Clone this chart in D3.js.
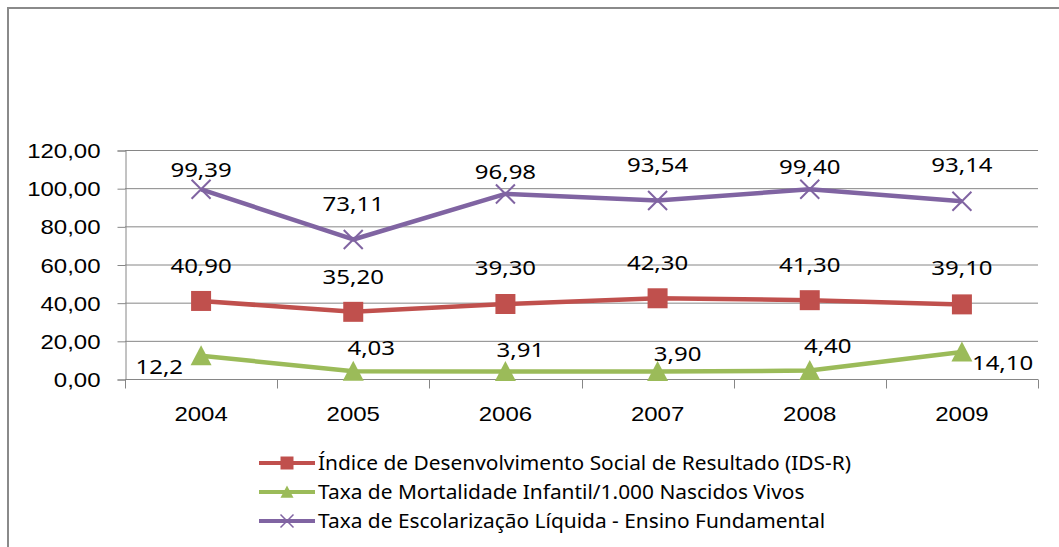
<!DOCTYPE html>
<html>
<head>
<meta charset="utf-8">
<script src="https://cdn.jsdelivr.net/npm/d3@7"></script>
<style>
  html, body { margin: 0; padding: 0; background: #fff; }
  svg { display: block; font-family: "Noto Sans", "Open Sans", sans-serif; }
</style>
</head>
<body>
<div id="chart"></div>
<script>
// data
const years = ['2004', '2005', '2006', '2007', '2008', '2009'];
const idsR = [40.90, 35.20, 39.30, 42.30, 41.30, 39.10];
const mortalidade = [12.2, 4.03, 3.91, 3.90, 4.40, 14.10];
const escolarizacao = [99.39, 73.11, 96.98, 93.54, 99.40, 93.14];
const yTicks = [0, 20, 40, 60, 80, 100, 120];

const idsLabels = ['40,90', '35,20', '39,30', '42,30', '41,30', '39,10'];
const mortLabels = ['12,2', '4,03', '3,91', '3,90', '4,40', '14,10'];
const escLabels = ['99,39', '73,11', '96,98', '93,54', '99,40', '93,14'];

// label offsets (dx, dy, anchor) as placed in the original
const idsPlace = [[0,-35,'middle'],[0,-35,'middle'],[0,-36,'middle'],[0,-35,'middle'],[0,-35,'middle'],[0,-36,'middle']];
const mortPlace = [[-18,11,'end'],[18,-23,'middle'],[15,-22,'middle'],[20,-18,'middle'],[18,-25,'middle'],[10,11,'start']];
const escPlace = [[0,-19,'middle'],[0,-35,'middle'],[0,-22,'middle'],[0,-35,'middle'],[0,-22,'middle'],[0,-36,'middle']];

const W = 1059, H = 547;
const FS = 20, SX = 1.2;   // font size and horizontal stretch of the numbers
const LSX = 1.045;         // legend text stretch

const svg = d3.select('#chart').append('svg')
  .attr('width', W).attr('height', H);

// frame (only top & left visible)
svg.append('path')
  .attr('d', `M8,${H} V8 H${W}`)
  .attr('fill', 'none')
  .attr('stroke', '#8a8a8a')
  .attr('stroke-width', 2);

const x = d3.scaleBand().domain(years).range([125, 1038]).padding(0);
const y = d3.scaleLinear().domain([0, 120]).range([379, 150]);
const cx = d => x(d) + x.bandwidth() / 2;

// gridlines
svg.append('g')
  .selectAll('line')
  .data(yTicks.filter(t => t > 0))
  .join('line')
  .attr('x1', 125).attr('x2', 1038)
  .attr('y1', d => y(d) + 0.5).attr('y2', d => y(d) + 0.5)
  .attr('stroke', '#868686').attr('stroke-width', 1);

// y axis
const yAxis = svg.append('g')
  .attr('transform', 'translate(125.5,0.5)')
  .call(d3.axisLeft(y).tickValues(yTicks).tickSize(8).tickPadding(17)
    .tickFormat(d => d3.format('.2f')(d).replace('.', ',')));
yAxis.select('.domain').attr('stroke', '#868686');
yAxis.selectAll('.tick line').attr('stroke', '#868686');
yAxis.selectAll('.tick text')
  .attr('fill', '#000')
  .style('font-size', FS + 'px')
  .attr('x', -25 / SX)
  .attr('dy', '0.35em')
  .attr('transform', `scale(${SX},1)`);

// x axis
const xAxis = svg.append('g')
  .attr('transform', 'translate(0,379.5)')
  .call(d3.axisBottom(x).tickSize(0).tickPadding(27));
xAxis.select('.domain').attr('stroke', '#868686').attr('d', 'M125,0H1038');
xAxis.selectAll('.tick text')
  .attr('fill', '#000')
  .style('font-size', FS + 'px')
  .attr('transform', `scale(${SX},1)`)
  .attr('x', 0);
xAxis.selectAll('.tick').attr('transform', d => `translate(${cx(d)},0)`);
xAxis.append('g')
  .selectAll('line')
  .data(years.map(d => x(d)).concat([x(years[years.length - 1]) + x.bandwidth()]))
  .join('line')
  .attr('x1', d => Math.round(d) + 0.5).attr('x2', d => Math.round(d) + 0.5)
  .attr('y1', 0).attr('y2', 9)
  .attr('stroke', '#868686');

// markers
const square = s => `M${-s},${-s}H${s}V${s}H${-s}Z`;
const triangle = s => `M0,${-s}L${s},${s * 0.9}L${-s},${s * 0.9}Z`;
const cross = s => `M${-s},${-s}L${s},${s}M${-s},${s}L${s},${-s}`;

const series = [
  { name: 'Índice de Desenvolvimento Social de Resultado (IDS-R)', values: idsR, labels: idsLabels, place: idsPlace,
    color: '#C0504D', marker: square, size: 10, legendSize: 6.5, fillMarker: true },
  { name: 'Taxa de Mortalidade Infantil/1.000 Nascidos Vivos', values: mortalidade, labels: mortLabels, place: mortPlace,
    color: '#9BBB59', marker: triangle, size: 10.5, legendSize: 6.5, fillMarker: true },
  { name: 'Taxa de Escolarização Líquida - Ensino Fundamental', values: escolarizacao, labels: escLabels, place: escPlace,
    color: '#8064A2', marker: cross, size: 9.5, legendSize: 6.5, fillMarker: false }
];

const line = d3.line().x(d => cx(d[0])).y(d => y(d[1]));

series.forEach(s => {
  const pts = years.map((yr, i) => [yr, s.values[i]]);
  const g = svg.append('g');
  g.append('path')
    .datum(pts)
    .attr('d', line)
    .attr('fill', 'none')
    .attr('stroke', s.color)
    .attr('stroke-width', 4.5)
    .attr('stroke-linejoin', 'round');
  g.selectAll('path.mk')
    .data(pts)
    .join('path')
    .attr('class', 'mk')
    .attr('transform', d => `translate(${cx(d[0])},${y(d[1])})`)
    .attr('d', s.marker(s.size))
    .attr('fill', s.fillMarker ? s.color : 'none')
    .attr('stroke', s.color)
    .attr('stroke-width', s.fillMarker ? 0 : 2);
});

// data labels on top
series.forEach(s => {
  svg.append('g')
    .selectAll('text')
    .data(years.map((yr, i) => ({ yr, v: s.values[i], t: s.labels[i], p: s.place[i] })))
    .join('text')
    .attr('transform', d => `translate(${cx(d.yr) + d.p[0]},${y(d.v) + d.p[1]}) scale(${SX},1)`)
    .attr('text-anchor', d => d.p[2])
    .attr('dy', '0.35em')
    .style('font-size', FS + 'px')
    .attr('fill', '#000')
    .text(d => d.t);
});

// legend
const legend = svg.append('g');
series.forEach((s, i) => {
  const ly = 463 + i * 29;
  const row = legend.append('g').attr('transform', `translate(0,${ly})`);
  row.append('line')
    .attr('x1', 259).attr('x2', 315)
    .attr('stroke', s.color).attr('stroke-width', 4);
  row.append('path')
    .attr('transform', 'translate(287,0)')
    .attr('d', s.marker(s.legendSize))
    .attr('fill', s.fillMarker ? s.color : 'none')
    .attr('stroke', s.color)
    .attr('stroke-width', s.fillMarker ? 0 : 1.5);
  row.append('text')
    .attr('transform', `translate(318,0) scale(${LSX},1)`)
    .attr('dy', '0.35em')
    .style('font-size', FS + 'px')
    .attr('fill', '#000')
    .text(s.name);
});
</script>
</body>
</html>
